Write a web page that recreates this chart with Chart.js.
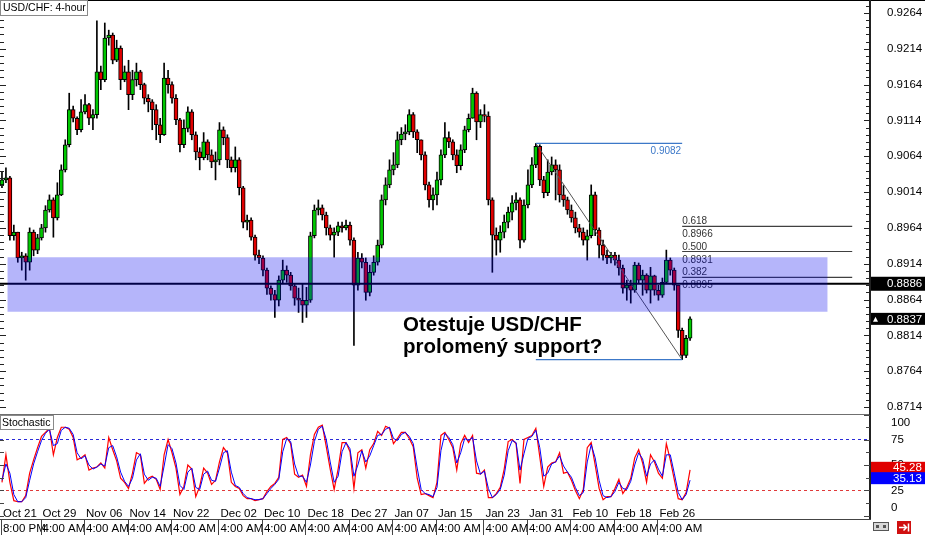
<!DOCTYPE html>
<html><head><meta charset="utf-8">
<script src="https://cdn.jsdelivr.net/npm/chart.js@4/dist/chart.umd.min.js"></script>
<style>
html,body{margin:0;padding:0;background:#fff;}
#wrap{position:relative;width:925px;height:535px;overflow:hidden;background:#fff;}
#c1{position:absolute;left:0;top:0;}
#c2{position:absolute;left:0;top:414px;}
</style></head><body>
<div id="wrap">
<canvas id="c1" width="925" height="414"></canvas>
<canvas id="c2" width="925" height="121"></canvas>
</div>
<script>
// ---------------- DATA ----------------
const firstOpen = 0.9024;
const closes = [
0.9031,0.9034,0.8953,0.8958,0.8922,0.8925,0.8916,0.8958,0.8933,0.8950,
0.8964,0.8989,0.9003,0.8978,0.9010,0.9045,0.9080,0.9129,0.9117,0.9101,
0.9126,0.9136,0.9117,0.9122,0.9182,0.9171,0.9229,0.9233,0.9198,0.9215,
0.9171,0.9182,0.9150,0.9171,0.9182,0.9164,0.9145,0.9140,0.9129,0.9108,
0.9094,0.9173,0.9164,0.9145,0.9115,0.9080,0.9103,0.9126,0.9094,0.9070,
0.9062,0.9084,0.9066,0.9056,0.9059,0.9101,0.9090,0.9059,0.9048,0.9059,
0.9020,0.8972,0.8975,0.8951,0.8926,0.8922,0.8905,0.8880,0.8871,0.8863,
0.8891,0.8905,0.8898,0.8883,0.8866,0.8863,0.8856,0.8863,0.8953,0.8989,
0.8992,0.8982,0.8964,0.8954,0.8958,0.8967,0.8964,0.8968,0.8947,0.8884,
0.8922,0.8916,0.8874,0.8902,0.8916,0.8940,0.9003,0.9024,0.9045,0.9052,
0.9087,0.9095,0.9098,0.9122,0.9098,0.9087,0.9066,0.9024,0.9003,0.9010,
0.9031,0.9066,0.9090,0.9084,0.9066,0.9051,0.9073,0.9101,0.9117,0.9152,
0.9112,0.9122,0.9120,0.9003,0.8954,0.8947,0.8958,0.8972,0.8986,0.8999,
0.9003,0.8947,0.8996,0.9024,0.9052,0.9078,0.9031,0.9013,0.9042,0.9052,
0.9045,0.9010,0.9003,0.8989,0.8978,0.8964,0.8958,0.8947,0.8953,0.9010,
0.8961,0.8940,0.8926,0.8922,0.8926,0.8919,0.8908,0.8880,0.8884,0.8877,
0.8912,0.8891,0.8898,0.8877,0.8897,0.8877,0.8870,0.8888,0.8919,0.8905,
0.8884,0.8821,0.8786,0.8810,0.8837];
const highs = [
0.9042,0.9048,0.9036,0.8968,0.8958,0.8930,0.8928,0.8964,0.8961,0.8955,
0.8969,0.8995,0.9010,0.9006,0.9027,0.9052,0.9087,0.9152,0.9134,0.9119,
0.9143,0.9150,0.9138,0.9129,0.9253,0.9190,0.9250,0.9240,0.9236,0.9226,
0.9218,0.9190,0.9198,0.9184,0.9194,0.9184,0.9166,0.9150,0.9143,0.9136,
0.9117,0.9194,0.9184,0.9168,0.9150,0.9117,0.9115,0.9133,0.9129,0.9098,
0.9076,0.9097,0.9087,0.9073,0.9070,0.9111,0.9105,0.9094,0.9063,0.9077,
0.9062,0.9022,0.8982,0.8978,0.8954,0.8933,0.8925,0.8908,0.8883,0.8877,
0.8897,0.8919,0.8911,0.8902,0.8885,0.8880,0.8886,0.8881,0.8958,0.8996,
0.9003,0.8996,0.8986,0.8968,0.8964,0.8972,0.8972,0.8975,0.8972,0.8950,
0.8930,0.8928,0.8922,0.8912,0.8925,0.8947,0.9010,0.9034,0.9059,0.9069,
0.9098,0.9104,0.9108,0.9129,0.9125,0.9101,0.9087,0.9070,0.9028,0.9020,
0.9042,0.9073,0.9111,0.9098,0.9087,0.9073,0.9080,0.9106,0.9123,0.9159,
0.9154,0.9129,0.9136,0.9126,0.9006,0.8964,0.8967,0.8982,0.8993,0.9009,
0.9013,0.9006,0.9003,0.9045,0.9062,0.9082,0.9080,0.9036,0.9059,0.9063,
0.9059,0.9052,0.9023,0.9007,0.8996,0.8986,0.8969,0.8964,0.8961,0.9024,
0.9014,0.8964,0.8947,0.8933,0.8930,0.8930,0.8926,0.8912,0.8891,0.8891,
0.8916,0.8915,0.8905,0.8900,0.8909,0.8898,0.8884,0.8894,0.8933,0.8922,
0.8908,0.8884,0.8824,0.8814,0.8840];
const lows = [
0.9020,0.9027,0.8947,0.8947,0.8916,0.8905,0.8891,0.8905,0.8925,0.8928,
0.8947,0.8958,0.8986,0.8951,0.8975,0.9009,0.9042,0.9077,0.9112,0.9094,
0.9098,0.9123,0.9108,0.9101,0.9117,0.9157,0.9168,0.9219,0.9193,0.9196,
0.9157,0.9168,0.9129,0.9143,0.9162,0.9157,0.9137,0.9126,0.9101,0.9087,
0.9083,0.9093,0.9152,0.9138,0.9108,0.9070,0.9076,0.9098,0.9087,0.9059,
0.9045,0.9059,0.9059,0.9048,0.9031,0.9052,0.9080,0.9048,0.9042,0.9042,
0.9010,0.8964,0.8961,0.8947,0.8919,0.8914,0.8897,0.8871,0.8863,0.8839,
0.8855,0.8886,0.8888,0.8877,0.8856,0.8846,0.8832,0.8839,0.8860,0.8950,
0.8982,0.8975,0.8954,0.8947,0.8923,0.8953,0.8958,0.8961,0.8940,0.8800,
0.8877,0.8908,0.8863,0.8869,0.8898,0.8912,0.8936,0.8996,0.9020,0.9038,
0.9048,0.9080,0.9087,0.9094,0.9090,0.9069,0.9059,0.9017,0.8993,0.8989,
0.8996,0.9024,0.9062,0.9076,0.9059,0.9041,0.9045,0.9069,0.9098,0.9117,
0.9087,0.9104,0.9112,0.8996,0.8902,0.8926,0.8930,0.8950,0.8964,0.8975,
0.8989,0.8936,0.8944,0.8992,0.9020,0.9048,0.9023,0.9006,0.9009,0.9038,
0.9003,0.9000,0.8994,0.8983,0.8972,0.8957,0.8951,0.8940,0.8919,0.8950,
0.8953,0.8922,0.8919,0.8914,0.8915,0.8912,0.8898,0.8873,0.8863,0.8859,
0.8874,0.8887,0.8870,0.8873,0.8859,0.8870,0.8863,0.8867,0.8886,0.8898,
0.8877,0.8811,0.8780,0.8783,0.8807];
const stochMain = [
33,60,33,15,14,14,20,42,55,67,
78,82,86,60,77,87,87,85,77,55,
57,60,45,47,48,52,47,77,65,54,
37,33,27,42,62,60,32,37,39,36,
26,60,75,62,47,21,29,50,46,19,
29,47,42,31,35,53,67,62,33,29,
27,20,17,17,15,16,17,24,29,32,
38,75,77,71,41,38,40,29,60,80,
87,89,68,46,26,46,72,72,63,27,
62,65,47,65,71,83,79,88,86,71,
76,82,82,76,68,37,21,22,20,18,
33,79,82,75,67,45,71,79,72,79,
42,41,45,18,18,22,28,46,73,75,
71,32,75,77,79,86,58,29,48,52,
53,62,42,43,35,25,17,26,67,72,
50,27,16,19,19,27,36,22,28,37,
57,65,52,33,60,53,42,37,71,55,
36,17,16,23,45.28];
const stochSignal = [
35,51,42,21,14,14,18,35,51,63,
74,81,85,69,71,84,87,86,80,62,
56,59,50,46,48,51,49,67,69,58,
43,34,29,37,55,61,41,35,38,37,
29,49,70,66,52,30,26,43,47,28,
26,41,44,35,34,47,62,64,43,30,
28,22,18,17,16,16,17,22,27,31,
36,63,76,73,51,39,39,33,50,73,
85,88,75,53,33,39,63,72,66,39,
50,64,53,59,69,79,80,85,87,76,
74,80,82,78,71,47,26,22,21,19,
28,64,81,77,70,52,62,76,74,77,
54,41,44,27,18,21,26,40,64,74,
72,45,61,76,78,84,67,39,42,51,
53,59,49,43,38,28,20,23,53,70,
57,35,20,18,19,24,33,27,26,34,
50,62,56,39,51,55,46,39,60,60,
42,23,16,21,35.13];
const priceTicks = [0.9264,0.9214,0.9164,0.9114,0.9064,0.9014,0.8964,0.8914,0.8864,0.8814,0.8764,0.8714];
const stochTicks = [100,75,50,25,0];
const stochLevels = [75,25];
const dateLabels = ['Oct 21','Oct 29','Nov 06','Nov 14','Nov 22','Dec 02','Dec 10','Dec 18','Dec 27','Jan 07','Jan 15','Jan 23','Jan 31','Feb 10','Feb 18','Feb 26'];
const timeLabels = ['8:00 PM','4:00 AM','4:00 AM','4:00 AM','4:00 AM','4:00 AM','4:00 AM','4:00 AM','4:00 AM','4:00 AM','4:00 AM','4:00 AM','4:00 AM','4:00 AM','4:00 AM','4:00 AM'];
const labelBars = [0,10,21,32,43,55,66,77,88,99,110,122,133,144,155,166];
const supportLevel = 0.8886;
const zoneTop = 0.8923, zoneBottom = 0.8847, zoneFromBar = 1.35, zoneToBar = 208.8;
const fibHigh = 0.9082, fibLow = 0.8780, fibStartBar = 135, fibEndBar = 172, fibLevelEndBar = 215;
const fibRatios = ['0.618','0.500','0.382'];
const fibPrices = [0.8966, 0.8931, 0.8895];
const titleText = 'USD/CHF: 4-hour';
const noteLines = ['Otestuje USD/CHF', 'prolomený support?'];

// ---------------- SETUP ----------------
const FONT = '"Liberation Sans", Arial, sans-serif';
Chart.defaults.font.family = FONT;
Chart.defaults.font.size = 11.5;
Chart.defaults.color = '#000';
Chart.defaults.animation = false;

const X_MIN = -0.5, X_MAX = 219.5;
const PRICE_MIN = 0.87042, PRICE_MAX = 0.92821;
// stochastic panel: 0..100 spans 102px, the visible plot ends 10px above the 0 line (date row sits there)
const STOCH_MAX = 100, STOCH_MIN = 100 - 92 * 100 / 102;
const idx = closes.map((_, i) => i);
const opens = closes.map((c, i) => i === 0 ? firstOpen : closes[i - 1]);
const bodyData = idx.map(i => ({x: i, y: [opens[i], closes[i]]}));
const wickData = idx.map(i => ({x: i, y: [lows[i], highs[i]]}));
const bodyColors = idx.map(i => closes[i] >= opens[i] ? '#00c800' : '#e00000');
const lastClose = closes[closes.length - 1];

function seg(x1, y1, x2, y2) { return [{x: x1, y: y1}, {x: x2, y: y2}]; }
function lineDs(data, color, width, order, dash) {
  return {type: 'line', data, borderColor: color, borderWidth: width, pointRadius: 0,
          fill: false, order, borderDash: dash || [], clip: false};
}

const mainPlugin = {
  id: 'mainOverlay',
  beforeDatasetsDraw(chart) {
    const {ctx, scales: {x, y}} = chart;
    ctx.save();
    ctx.font = '10px ' + FONT;
    ctx.textBaseline = 'alphabetic';
    ctx.fillStyle = '#3c78c8';
    ctx.textAlign = 'right';
    ctx.fillText(fibHigh.toFixed(4), x.getPixelForValue(fibEndBar) - 1, y.getPixelForValue(fibHigh) + 11);
    ctx.fillStyle = '#333';
    ctx.textAlign = 'left';
    fibPrices.forEach((p, k) => {
      const py = y.getPixelForValue(p), px = x.getPixelForValue(fibEndBar);
      ctx.fillText(fibRatios[k], px, py - 2);
      ctx.fillText(p.toFixed(4), px, py + 11);
    });
    ctx.restore();
  },
  afterDatasetsDraw(chart) {
    const {ctx} = chart;
    ctx.save();
    ctx.font = 'bold 20.5px ' + FONT;
    ctx.fillStyle = '#000';
    ctx.textAlign = 'left';
    ctx.textBaseline = 'alphabetic';
    ctx.fillText(noteLines[0], 403, 331);
    ctx.fillText(noteLines[1], 403, 353);
    ctx.restore();
  },
  afterDraw(chart) {
    const {ctx, scales: {y}, chartArea} = chart;
    const R = chartArea.right;
    ctx.save();
    ctx.fillStyle = '#000';
    ctx.fillRect(0, 0, 925, 1);
    ctx.fillStyle = '#222';
    ctx.fillRect(R - 1, 0, 2, chart.height);
    for (let k = -2; k <= 60; k++) {
      const v = priceTicks[priceTicks.length - 1] + k * 0.001;
      const py = Math.round(y.getPixelForValue(v));
      if (py < 1 || py > chart.height - 1) continue;
      const major = k % 5 === 0;
      ctx.fillRect(R - (major ? 6 : 4), py, major ? 6 : 4, 1);
      ctx.fillRect(0, py, major ? 6 : 4, 1);
    }
    ctx.font = '11.5px ' + FONT;
    ctx.textBaseline = 'middle';
    ctx.textAlign = 'left';
    let py = y.getPixelForValue(supportLevel);
    ctx.fillStyle = '#000';
    ctx.fillRect(R + 1, py - 7, 925 - R, 14);
    ctx.fillStyle = '#fff';
    ctx.fillText(supportLevel.toFixed(4), 887, py + 0.5);
    py = y.getPixelForValue(lastClose);
    ctx.fillStyle = '#000';
    ctx.fillRect(R + 1, py - 6, 925 - R, 12);
    ctx.fillStyle = '#fff';
    ctx.beginPath();
    ctx.moveTo(R + 3, py + 3); ctx.lineTo(R + 8, py + 3); ctx.lineTo(R + 5.5, py - 2); ctx.closePath(); ctx.fill();
    ctx.fillText(lastClose.toFixed(4), 887, py + 0.5);
    ctx.fillStyle = '#fff';
    ctx.fillRect(0, 0, 88, 16);
    ctx.strokeStyle = '#8a8a8a';
    ctx.lineWidth = 1;
    ctx.strokeRect(0.5, 0.5, 87, 15);
    ctx.fillStyle = '#000';
    ctx.font = '10.5px ' + FONT;
    ctx.fillText(titleText, 3, 8.5);
    ctx.restore();
  }
};

new Chart(document.getElementById('c1'), {
  type: 'bar',
  data: {
    datasets: [
      {type: 'line', data: seg(zoneFromBar, zoneTop, zoneToBar, zoneTop), borderWidth: 0, borderColor: 'rgba(0,0,0,0)',
       pointRadius: 0, fill: {value: zoneBottom}, backgroundColor: 'rgba(0,0,238,0.29)', order: 0},
      lineDs(seg(X_MIN, supportLevel, X_MAX, supportLevel), '#000', 2, 1),
      lineDs(seg(fibStartBar, fibHigh, fibEndBar, fibHigh), '#3c78c8', 1.2, 2),
      lineDs(seg(fibStartBar, fibLow, fibEndBar, fibLow), '#3c78c8', 1.2, 2),
      lineDs(seg(fibStartBar, fibHigh, fibEndBar, fibLow), '#555', 1, 2),
      lineDs(seg(fibEndBar, fibPrices[0], fibLevelEndBar, fibPrices[0]), '#404040', 1.2, 2),
      lineDs(seg(fibEndBar, fibPrices[1], fibLevelEndBar, fibPrices[1]), '#404040', 1.2, 2),
      lineDs(seg(fibEndBar, fibPrices[2], fibLevelEndBar, fibPrices[2]), '#404040', 1.2, 2),
      {type: 'bar', data: bodyData, backgroundColor: bodyColors, borderColor: '#000', borderWidth: 1,
       borderSkipped: false, barThickness: 4, grouped: false, order: 3},
      {type: 'bar', data: wickData, backgroundColor: '#000', borderWidth: 0, barThickness: 1, grouped: false, order: 4}
    ]
  },
  options: {
    responsive: false, animation: false, devicePixelRatio: 1,
    layout: {padding: 0},
    plugins: {legend: {display: false}, tooltip: {enabled: false}},
    scales: {
      x: {type: 'linear', min: X_MIN, max: X_MAX, display: false, offset: false},
      y: {position: 'right', min: PRICE_MIN, max: PRICE_MAX, beginAtZero: false,
          grid: {display: false, drawTicks: false}, border: {display: false},
          afterBuildTicks: s => { s.ticks = priceTicks.map(v => ({value: v})); },
          afterFit: s => { s.width = 55; s.paddingTop = 0; s.paddingBottom = 0; },
          ticks: {padding: 17, color: '#000', callback: v => Number(v).toFixed(4)}}
    }
  },
  plugins: [mainPlugin]
});

const stochPlugin = {
  id: 'stochOverlay',
  afterDraw(chart) {
    const {ctx, scales: {x, y}, chartArea} = chart;
    const R = chartArea.right;
    ctx.save();
    ctx.fillStyle = '#707070';
    ctx.fillRect(0, 0, R, 1);
    ctx.fillStyle = '#222';
    ctx.fillRect(R - 1, 0, 2, 106);
    ctx.fillStyle = '#444';
    ctx.fillRect(0, 105, R + 1, 1);
    for (let v = 0; v <= 100; v += 12.5) {
      const py = Math.round(y.getPixelForValue(v));
      const major = v % 25 === 0;
      ctx.fillRect(R - (major ? 6 : 4), Math.min(Math.max(py, 1), 104), major ? 6 : 4, 1);
      ctx.fillRect(0, Math.min(Math.max(py, 1), 104), 4, 1);
    }
    labelBars.forEach(b => {
      const px = Math.round(x.getPixelForValue(b)) - 1;
      ctx.fillRect(px, 105, 1, 16);
    });
    ctx.font = '11.5px ' + FONT;
    ctx.textBaseline = 'middle';
    ctx.textAlign = 'left';
    ctx.fillStyle = '#000';
    stochTicks.forEach(v => {
      const py = Math.min(Math.max(y.getPixelForValue(v), 9), 94);
      ctx.fillText(String(v), 891, py);
    });
    const m = stochMain[stochMain.length - 1], s = stochSignal[stochSignal.length - 1];
    let py = y.getPixelForValue(m) - 2;
    ctx.fillStyle = '#e00000';
    ctx.fillRect(R + 1, py - 6, 925 - R, 12);
    ctx.fillStyle = '#fff';
    ctx.fillText(m.toFixed(2), 893, py + 0.5);
    py = y.getPixelForValue(s) - 2;
    ctx.fillStyle = '#0000ff';
    ctx.fillRect(R + 1, py - 6, 925 - R, 12);
    ctx.fillStyle = '#fff';
    ctx.fillText(s.toFixed(2), 893, py + 0.5);
    ctx.fillStyle = '#fff';
    ctx.fillRect(0, 1, 54, 15);
    ctx.strokeStyle = '#8a8a8a';
    ctx.strokeRect(0.5, 1.5, 53, 14);
    ctx.fillStyle = '#000';
    ctx.font = '10.5px ' + FONT;
    ctx.fillText('Stochastic', 2, 9);
    ctx.fillStyle = '#d8d8d8';
    ctx.fillRect(873, 108, 16, 9);
    ctx.strokeStyle = '#555';
    ctx.strokeRect(873.5, 108.5, 15, 8);
    ctx.fillStyle = '#555';
    ctx.fillRect(876, 111, 3, 3); ctx.fillRect(883, 111, 3, 3);
    ctx.fillStyle = '#d01010';
    ctx.fillRect(897, 107, 14, 13);
    ctx.strokeStyle = '#fff';
    ctx.lineWidth = 1.5;
    ctx.beginPath();
    ctx.moveTo(899, 113.5); ctx.lineTo(906, 113.5);
    ctx.moveTo(903.5, 110.5); ctx.lineTo(906.5, 113.5); ctx.lineTo(903.5, 116.5);
    ctx.moveTo(908.5, 109.5); ctx.lineTo(908.5, 117.5);
    ctx.stroke();
    ctx.restore();
  }
};

new Chart(document.getElementById('c2'), {
  type: 'line',
  data: {
    datasets: [
      {data: idx.map(i => ({x: i, y: stochSignal[i]})), borderColor: '#0000ff', borderWidth: 1, pointRadius: 0, order: 0},
      {data: idx.map(i => ({x: i, y: stochMain[i]})), borderColor: '#ff0000', borderWidth: 1.2, pointRadius: 0, order: 1},
      lineDs(seg(X_MIN, stochLevels[0], X_MAX, stochLevels[0]), '#2a2ad8', 1, 2, [3, 3]),
      lineDs(seg(X_MIN, stochLevels[1], X_MAX, stochLevels[1]), '#e03a3a', 1, 2, [3, 3])
    ]
  },
  options: {
    responsive: false, animation: false, devicePixelRatio: 1,
    layout: {padding: 0},
    plugins: {legend: {display: false}, tooltip: {enabled: false}},
    scales: {
      x: {type: 'linear', min: X_MIN, max: X_MAX, position: 'bottom', offset: false,
          grid: {display: false, drawTicks: false}, border: {display: false},
          afterBuildTicks: s => { s.ticks = labelBars.map(v => ({value: v})); },
          afterFit: s => { s.height = 29; s.paddingLeft = 0; s.paddingRight = 0; },
          ticks: {autoSkip: false, maxRotation: 0, minRotation: 0, align: 'start', padding: 0, labelOffset: 1,
                  font: {size: 11.5, lineHeight: '15px'}, color: '#000',
                  callback: (v, k) => [dateLabels[k], timeLabels[k]]}},
      y: {position: 'right', min: STOCH_MIN, max: STOCH_MAX, grid: {display: false, drawTicks: false}, border: {display: false},
          ticks: {display: false},
          afterFit: s => { s.width = 55; s.paddingTop = 0; s.paddingBottom = 0; }}
    }
  },
  plugins: [stochPlugin]
});
</script>
</body></html>
